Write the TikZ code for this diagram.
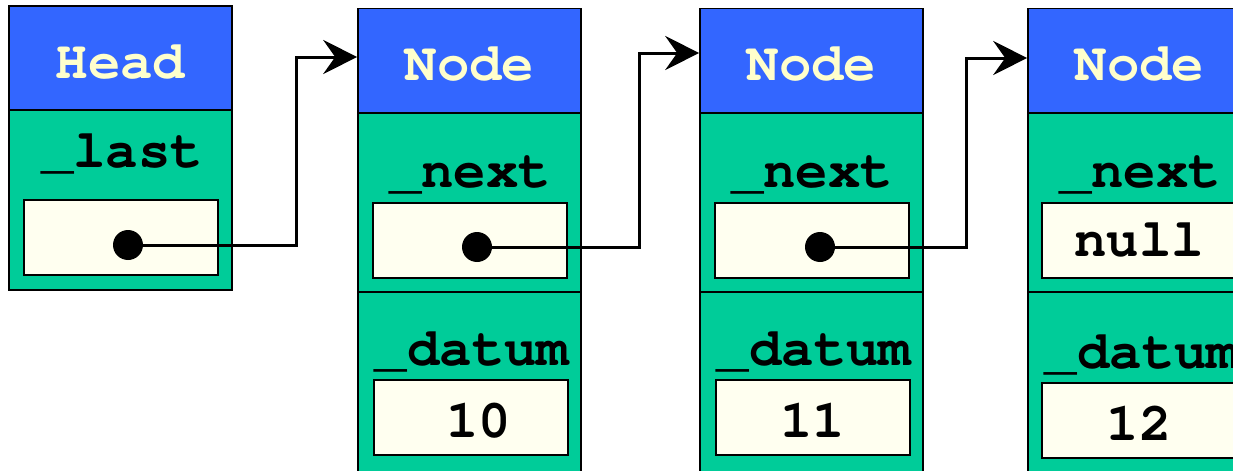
\documentclass[tikz,border=0pt]{standalone}
\usepackage{fontspec}
\setmonofont{TeX Gyre Cursor}
\usetikzlibrary{positioning, calc, arrows.meta}

\definecolor{hdrblue}{HTML}{3366FF}
\definecolor{fldgreen}{HTML}{00CC99}
\definecolor{cellwhite}{HTML}{FFFFF0}
\definecolor{hdrtext}{HTML}{FFFFCC}

\tikzset{
  hdr/.style = {draw, line width=0.8pt, fill=hdrblue, text=hdrtext, minimum width=111.5pt,
                minimum height=52pt, inner sep=0pt, text height=20pt, text depth=0pt,
                font=\fontsize{27}{30}\selectfont\ttfamily\bfseries},
  field/.style = {draw, line width=0.8pt, fill=fldgreen, minimum width=111.5pt, inner sep=0pt},
  cell/.style = {draw, line width=1pt, fill=cellwhite, minimum width=97pt, minimum height=37.5pt,
                 inner sep=0pt, font=\fontsize{27}{30}\selectfont\ttfamily\bfseries},
  datumcell/.style = {cell, text height=20pt, text depth=0pt},
  fldname/.style = {anchor=base, inner sep=0pt, font=\fontsize{27}{30}\selectfont\ttfamily\bfseries},
  ptrdot/.style = {circle, fill=black, minimum size=15pt, inner sep=0pt},
  ptr/.style = {-{Stealth[length=17pt, width=17pt, inset=6pt]}, line width=1.5pt}
}

\begin{document}
\begin{tikzpicture}[x=0.5pt, y=-0.5pt]
  \clip (0,0) rectangle (1233,471);
  \fill[white] (0,0) rectangle (1233,471);

  % head
  \node[hdr] (head) at (120.5,58) {Head};
  \node[field, minimum height=90pt] (headbody) at (120.5,200) {};
  \node[fldname] (lastname) at (122,167) {\_last};
  \node[cell] (lastcell) at (121,237.5) {};
  \node[ptrdot] (d0) at (128,245) {};

  % first node
  \node[hdr] (n1) at (469.5,60.5) {Node};
  \node[field, minimum height=89.5pt] (n1next) at (469.5,202.5) {};
  \node[field, minimum height=94pt] (n1datum) at (469.5,386) {};
  \node[fldname] (n1nextname) at (470,187) {\_next};
  \node[cell] (n1nextcell) at (470,240.5) {};
  \node[ptrdot] (d1) at (477,247) {};
  \node[fldname] (n1datumname) at (472,365) {\_datum};
  \node[datumcell] (n1datumcell) at (470.5,417.5) {\hspace{8pt}10};

  % second node
  \node[hdr] (n2) at (811.5,60.5) {Node};
  \node[field, minimum height=89.5pt] (n2next) at (811.5,202.5) {};
  \node[field, minimum height=94pt] (n2datum) at (811.5,386) {};
  \node[fldname] (n2nextname) at (812,187) {\_next};
  \node[cell] (n2nextcell) at (812,240.5) {};
  \node[ptrdot] (d2) at (820,247) {};
  \node[fldname] (n2datumname) at (814,365) {\_datum};
  \node[datumcell] (n2datumcell) at (812.5,417.5) {11};

  % last node
  \node[hdr] (n3) at (1139.5,60.5) {Node};
  \node[field, minimum height=89.5pt] (n3next) at (1139.5,202.5) {};
  \node[field, minimum height=94pt] (n3datum) at (1139.5,386) {};
  \node[fldname] (n3nextname) at (1140,187) {\_next};
  \node[cell] (n3nextcell) at (1139,240.5) {null};
  \node[fldname] (n3datumname) at (1142,368) {\_datum};
  \node[datumcell] (n3datumcell) at (1139,420.5) {12};

  % links
  \coordinate (b0) at (296,57);
  \coordinate (b1) at (639,53);
  \coordinate (b2) at (966,58);
  \draw[ptr] (d0.center) -| (b0) -- (b0 -| n1.west);
  \draw[ptr] (d1.center) -| (b1) -- (b1 -| n2.west);
  \draw[ptr] (d2.center) -| (b2) -- (b2 -| n3.west);
\end{tikzpicture}
\end{document}
